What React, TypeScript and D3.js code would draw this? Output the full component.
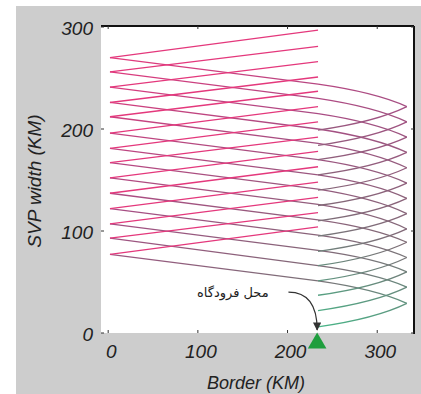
import React from "react";
import * as d3 from "d3";

// 14 tracks, listed bottom to top (SVP width, km)
const startY = [77, 93, 107, 122, 137, 152, 167, 181, 196, 212, 226, 241, 256, 270];
// climbing tracks: height where they stop at the border
const climbEndY = [104, 118, 133, 148, 163, 178, 192, 207, 222, 237, 251, 266, 281, 297];
// descending tracks: height at the border, at the far turn, and back at the border
const crossY = [51, 66, 81, 96, 111, 126, 141, 155, 170, 186, 200, 215, 230, 244];
const turnY = [29, 45, 60, 74, 89, 102, 117, 132, 147, 162, 177, 192, 207, 222];
const backY = [6, 22, 37, 51, 66, 80, 95, 110, 125, 140, 155, 170, 184, 199];

const startX = 2;
const borderX = 234;
const turnX = 333;
// how far the legs next to the turn bow away from a straight line (km)
const bendOut = 3;
const bendBack = 3.5;

const xTicks = [0, 100, 200, 300];
const yTicks = [0, 100, 200, 300];

const airport = { x: 233, y: -10 };
const note = { text: "محل فرودگاه", x: 139, y: 40 };
const arrowPts: [number, number][] = [[201, 40], [233, 40], [233, 3]];

const W = 421;
const H = 394;
const plot = { left: 101, right: 414, top: 26, bottom: 333 };

const x = d3.scaleLinear().domain([-8, 341]).range([plot.left, plot.right]);
const y = d3.scaleLinear().domain([0, 300]).range([plot.bottom, plot.top + 1]);

const cmap = d3
  .scaleLinear<string>()
  .domain([0, 0.3, 0.65, 1])
  .range(["#3cc48a", "#7e6c76", "#a84c84", "#e4387c"])
  .clamp(true);

const tickFont = "'Liberation Sans', Arial, sans-serif";

type Leg = { d: string; x1: number; y1: number; x2: number; y2: number; c1: string; c2: string; id: string };

export default function App() {
  const n = startY.length;

  // descending tracks, drawn leg by leg with a colour gradient along the track
  const legs: Leg[] = [];
  startY.forEach((sy, k) => {
    const pts: [number, number][] = [
      [startX, sy],
      [borderX, crossY[k]],
      [turnX, turnY[k]],
      [borderX, backY[k]],
    ];
    // control points for the two legs beside the turn
    const ctrl: ([number, number] | null)[] = [
      null,
      [turnX - 35, (crossY[k] + turnY[k]) / 2 + bendOut],
      [turnX - 35, (turnY[k] + backY[k]) / 2 - bendBack],
    ];
    const px = pts.map(([a, b]) => [x(a), y(b)] as [number, number]);
    const lens = d3.pairs(px).map(([a, b]) => Math.hypot(b[0] - a[0], b[1] - a[1]));
    const total = d3.sum(lens);
    let acc = 0;
    const base = 0.55 + (0.45 * k) / (n - 1);
    d3.pairs(px).forEach(([a, b], i) => {
      const p1 = acc / total;
      acc += lens[i];
      const p2 = acc / total;
      const c = ctrl[i];
      const d = c
        ? `M${a[0]},${a[1]} Q${x(c[0])},${y(c[1])} ${b[0]},${b[1]}`
        : `M${a[0]},${a[1]} L${b[0]},${b[1]}`;
      legs.push({
        d,
        x1: a[0], y1: a[1], x2: b[0], y2: b[1],
        c1: cmap(base - 0.5 * p1), c2: cmap(base - 0.5 * p2),
        id: `g${k}-${i}`,
      });
    });
  });

  const arrowPath = `M${x(arrowPts[0][0])},${y(arrowPts[0][1])} Q${x(arrowPts[1][0])},${y(arrowPts[1][1])} ${x(arrowPts[2][0])},${y(arrowPts[2][1])}`;
  const tri = d3.symbol().type(d3.symbolTriangle).size(150)();

  return (
    <div style={{ position: "fixed", left: 0, top: 0 }}>
      <svg width={W} height={H} style={{ display: "block" }}>
        <defs>
          {legs.map((l) => (
            <linearGradient key={l.id} id={l.id} gradientUnits="userSpaceOnUse" x1={l.x1} y1={l.y1} x2={l.x2} y2={l.y2}>
              <stop offset="0" stopColor={l.c1} />
              <stop offset="1" stopColor={l.c2} />
            </linearGradient>
          ))}
          <marker id="head" viewBox="0 0 10 10" refX="9" refY="5" markerWidth="7" markerHeight="7" orient="auto">
            <path d="M0,0 L10,5 L0,10 z" fill="#333" />
          </marker>
        </defs>
        <rect x={16} y={6} width={W - 16} height={H - 6} fill="#cdcdcd" />
        <rect x={plot.left} y={plot.top} width={plot.right - plot.left} height={plot.bottom - plot.top} fill="#fff" />

        {legs.map((l) => (
          <path key={l.id} d={l.d} fill="none" stroke={`url(#${l.id})`} strokeWidth={1.3} />
        ))}
        {startY.map((sy, k) => (
          <line key={`c${k}`} x1={x(startX)} y1={y(sy)} x2={x(borderX)} y2={y(climbEndY[k])} stroke="#e4387c" strokeWidth={1.3} />
        ))}

        {/* frame: top and right edges are the visible ones */}
        <line x1={plot.left} y1={plot.top} x2={plot.right} y2={plot.top} stroke="#111" strokeWidth={2} />
        <line x1={plot.right} y1={plot.top} x2={plot.right} y2={plot.bottom + 1} stroke="#111" strokeWidth={2} />

        {xTicks.map((t) => (
          <g key={`xt${t}`}>
            <line x1={x(t)} x2={x(t)} y1={plot.top} y2={plot.top + 3} stroke="#333" />
            <line x1={x(t)} x2={x(t)} y1={plot.bottom} y2={plot.bottom - 3} stroke="#333" />
            <text x={x(t) + 3} y={358} textAnchor="middle" fontFamily={tickFont} fontStyle="italic" fontSize={19} fill="#222">
              {t}
            </text>
          </g>
        ))}
        {yTicks.map((t) => (
          <g key={`yt${t}`}>
            <line x1={plot.left} x2={plot.left + 3} y1={y(t)} y2={y(t)} stroke="#333" />
            <line x1={plot.right} x2={plot.right - 3} y1={y(t)} y2={y(t)} stroke="#333" />
            <text x={93} y={y(t) + 8} textAnchor="end" fontFamily={tickFont} fontStyle="italic" fontSize={19} fill="#222">
              {t}
            </text>
          </g>
        ))}

        <text x={256} y={389} textAnchor="middle" fontFamily={tickFont} fontStyle="italic" fontSize={18} fill="#222">
          Border (KM)
        </text>
        <text transform={`translate(41,181) rotate(-90)`} textAnchor="middle" fontFamily={tickFont} fontStyle="italic" fontSize={19} fill="#222">
          SVP width (KM)
        </text>

        <text x={x(note.x)} y={y(note.y) + 5} textAnchor="middle" fontFamily="'DejaVu Sans', sans-serif" fontSize={13} fill="#222" direction="rtl">
          {note.text}
        </text>
        <path d={arrowPath} fill="none" stroke="#333" strokeWidth={1.2} markerEnd="url(#head)" />

        <path d={tri} transform={`translate(${x(airport.x)},${y(airport.y)})`} fill="#1f9e3e" />
      </svg>
    </div>
  );
}
